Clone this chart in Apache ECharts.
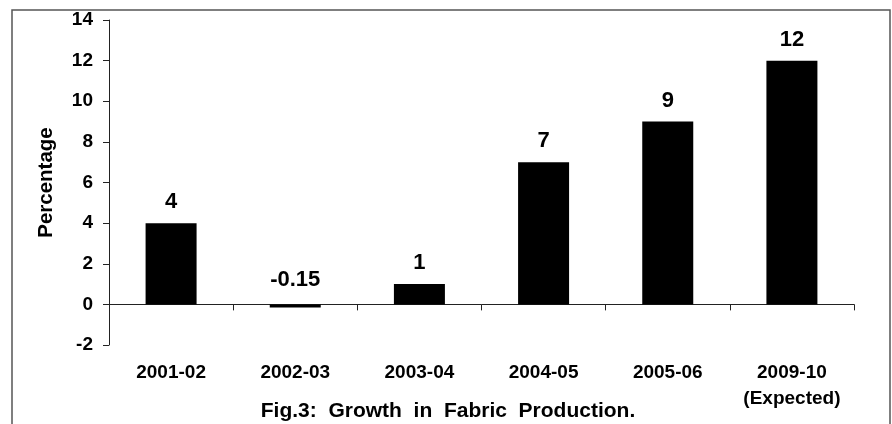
<!DOCTYPE html>
<html>
<head>
<meta charset="utf-8">
<style>
  html, body { margin: 0; padding: 0; background: #fff; }
  #chart { width: 892px; height: 424px; }
</style>
<script src="https://cdn.jsdelivr.net/npm/echarts@6/dist/echarts.min.js"></script>
</head>
<body>
<div id="chart"></div>
<script>
// Growth in fabric production, per cent per year
const years = ['2001-02', '2002-03', '2003-04', '2004-05', '2005-06', '2009-10\n(Expected)'];
const growth = [4, -0.15, 1, 7, 9, 12];
const yTicks = { min: -2, max: 14, step: 2 };
const captionText = 'Fig.3:  Growth  in  Fabric  Production.';

const FONT = '"Liberation Sans", Arial, Helvetica, sans-serif';

const chart = echarts.init(document.getElementById('chart'), null, { renderer: 'canvas' });

chart.setOption({
  backgroundColor: '#fff',
  animation: false,
  grid: { left: 109, right: 38, top: 20, bottom: 79, containLabel: false, outerBoundsMode: 'none' },
  xAxis: {
    type: 'category',
    data: years,
    axisLine: { onZero: true, lineStyle: { color: '#222', width: 1 } },
    axisTick: { show: true, length: 6, alignWithLabel: false, lineStyle: { color: '#222' } },
    axisLabel: {
      margin: 15,
      color: '#000',
      fontFamily: FONT,
      fontWeight: 'bold',
      fontSize: 19,
      lineHeight: 26,
      interval: 0
    },
    splitLine: { show: false }
  },
  yAxis: {
    type: 'value',
    min: yTicks.min,
    max: yTicks.max,
    interval: yTicks.step,
    name: 'Percentage',
    nameLocation: 'middle',
    nameGap: 52,
    nameRotate: 90,
    nameTextStyle: { color: '#000', fontFamily: FONT, fontWeight: 'bold', fontSize: 20.5 },
    axisLine: { show: true, lineStyle: { color: '#222', width: 1 } },
    axisTick: { show: true, length: 6, lineStyle: { color: '#222' } },
    axisLabel: { margin: 16, color: '#000', fontFamily: FONT, fontWeight: 'bold', fontSize: 19 },
    splitLine: { show: false }
  },
  series: [{
    type: 'bar',
    data: growth.map(v => ({
      value: v,
      label: v < 0 ? { position: 'insideBottom', distance: 0, offset: [0, -16] } : undefined
    })),
    barWidth: 51,
    itemStyle: { color: '#000' },
    label: {
      show: true,
      position: 'top',
      distance: 10,
      color: '#000',
      fontFamily: FONT,
      fontWeight: 'bold',
      fontSize: 22
    }
  }],
  graphic: [
    {
      type: 'rect',
      shape: { x: 12, y: 10, width: 878, height: 430 },
      style: { fill: 'none', stroke: '#555', lineWidth: 1.5 },
      silent: true
    },
    {
      type: 'text',
      x: 448,
      y: 411,
      style: {
        text: captionText,
        fill: '#000',
        font: 'bold 21px ' + FONT,
        align: 'center',
        verticalAlign: 'middle'
      }
    }
  ]
});
</script>
</body>
</html>
